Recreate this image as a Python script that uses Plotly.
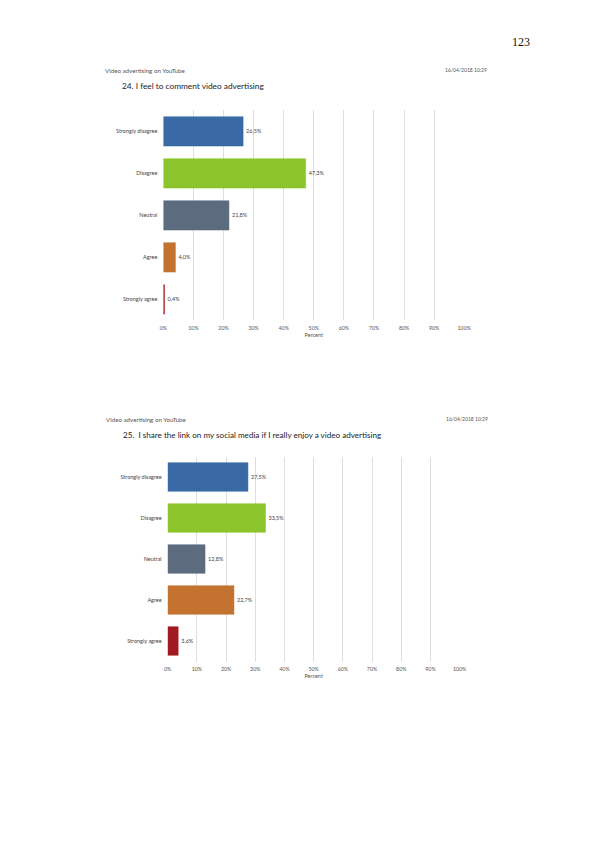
import plotly.graph_objects as go

# answer categories (top to bottom) and their colours
categories = ["Strongly disagree", "Disagree", "Neutral", "Agree", "Strongly agree"]
bar_colors = ["#3a6aa5", "#8cc42b", "#5d6b7f", "#c3722f", "#a11a23"]

# percent per category
q24_values = [26.5, 47.3, 21.8, 4.0, 0.4]
q25_values = [27.5, 33.5, 12.8, 22.7, 3.6]

q24_title = "24. I feel to comment video advertising"
q25_title = "25.  I share the link on my social media if I really enjoy a video advertising"
header = "Video advertising on YouTube"
stamp = "16/04/2018 10:29"
page_no = "123"

# the page body keeps its default 8px margin, so the figure is 16px smaller
OFF = 8
W, H = 595 - 2 * OFF, 842 - 2 * OFF


def px_x(v):
    return (v - OFF) / W


def px_y(v):
    return 1 - (v - OFF) / H


def fmt(v):
    return f"{v:.1f}".replace(".", ",") + "%"


fig = go.Figure()

for i, vals in enumerate([q24_values, q25_values]):
    n = "" if i == 0 else "2"
    fig.add_trace(go.Bar(
        x=vals, y=categories, orientation="h",
        marker=dict(color=bar_colors, line=dict(color=bar_colors, width=0.5)),
        width=0.7,
        text=[fmt(v) for v in vals], textposition="outside",
        textfont=dict(size=5.5, color="#444444", family="Lato"),
        cliponaxis=False,
        xaxis="x" + n, yaxis="y" + n, showlegend=False,
    ))

axis_x = dict(range=[0, 100], dtick=10, ticksuffix="%", showgrid=True,
              gridcolor="#dedede", gridwidth=0.8, zeroline=False, showline=False,
              ticks="", ticklabelstandoff=3,
              tickfont=dict(size=5.3, color="#555555", family="Lato"),
              title=dict(text="Percent", font=dict(size=5.5, color="#555555", family="Lato"),
                         standoff=3))
axis_y = dict(autorange="reversed", showgrid=False, zeroline=False, showline=False,
              ticks="", ticklabelstandoff=5,
              tickfont=dict(size=5.5, color="#444444", family="Lato"))

fig.update_layout(
    width=W, height=H,
    margin=dict(l=0, r=0, t=0, b=0),
    paper_bgcolor="white", plot_bgcolor="white",
    bargap=0.3,
    xaxis=dict(axis_x, domain=[px_x(162.3), px_x(469)], anchor="y"),
    yaxis=dict(axis_y, domain=[px_y(320.4), px_y(110.4)], anchor="x"),
    xaxis2=dict(axis_x, domain=[px_x(166.7), px_x(464.3)], anchor="y2"),
    yaxis2=dict(axis_y, domain=[px_y(661.5), px_y(456.5)], anchor="x2"),
)

notes = [
    (page_no, 538, 42, 12, "right", "Liberation Serif", "#111111"),
    (header, 101, 70, 6.2, "left", "Lato", "#555555"),
    (stamp, 494, 70, 5.0, "right", "Lato", "#555555"),
    (q24_title, 118, 86, 8.3, "left", "Lato", "#222222"),
    (header, 102, 419, 6.2, "left", "Lato", "#555555"),
    (stamp, 495, 419, 5.0, "right", "Lato", "#555555"),
    (q25_title, 119, 435, 8.1, "left", "Lato", "#222222"),
]
for txt, x, y, size, anchor, family, color in notes:
    fig.add_annotation(text=txt, x=px_x(x), y=px_y(y), xref="paper", yref="paper",
                       xanchor=anchor, yanchor="middle", showarrow=False,
                       font=dict(size=size, family=family, color=color))

fig.write_html("out.html")
